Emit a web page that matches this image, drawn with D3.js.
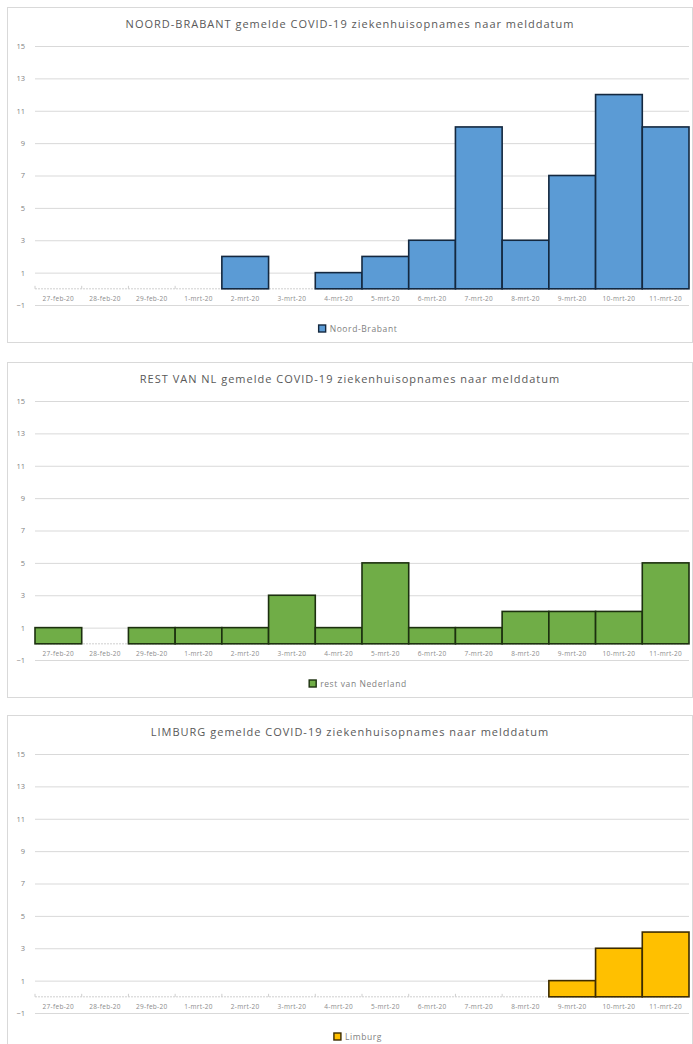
<!DOCTYPE html>
<html>
<head>
<meta charset="utf-8">
<script src="https://cdn.jsdelivr.net/npm/d3@7"></script>
<style>
  body { margin: 0; background: #fff; }
  text { font-family: "Open Sans", "Liberation Sans", sans-serif; }
</style>
</head>
<body>
<div id="charts"></div>
<script>
// chart data
var dates = ["27-feb-20", "28-feb-20", "29-feb-20", "1-mrt-20", "2-mrt-20", "3-mrt-20", "4-mrt-20",
             "5-mrt-20", "6-mrt-20", "7-mrt-20", "8-mrt-20", "9-mrt-20", "10-mrt-20", "11-mrt-20"];
var yTicks = [-1, 1, 3, 5, 7, 9, 11, 13, 15];
var brabantValues = [0, 0, 0, 0, 2, 0, 1, 2, 3, 10, 3, 7, 12, 10];
var restValues = [1, 0, 1, 1, 1, 3, 1, 5, 1, 1, 2, 2, 2, 5];
var limburgValues = [0, 0, 0, 0, 0, 0, 0, 0, 0, 0, 0, 1, 3, 4];
var titles = ["NOORD-BRABANT gemelde COVID-19 ziekenhuisopnames naar melddatum",
              "REST VAN NL gemelde COVID-19 ziekenhuisopnames naar melddatum",
              "LIMBURG gemelde COVID-19 ziekenhuisopnames naar melddatum"];
var legendNames = ["Noord-Brabant", "rest van Nederland", "Limburg"];

var width = 693,
    height = 1044,
    panelTops = [7, 362, 715],
    panelHeight = 335,
    plotLeft = 35,
    plotRight = 689;

var panels = [
  {title: titles[0], legend: legendNames[0], values: brabantValues, fill: "#5b9bd5", line: "#14283f"},
  {title: titles[1], legend: legendNames[1], values: restValues, fill: "#70ad47", line: "#1c300f"},
  {title: titles[2], legend: legendNames[2], values: limburgValues, fill: "#ffc000", line: "#3d2c00"}
];

var svg = d3.select("#charts")
            .append("svg")
            .attr("width", width)
            .attr("height", height)
            .style("display", "block");

// x scale shared by all panels, bars touch each other
var xScale = d3.scaleBand()
               .domain(dates)
               .range([plotLeft, plotRight])
               .padding(0);

panels.forEach(function(p, i) {
  var top = panelTops[i];
  var g = svg.append("g");

  // panel frame
  g.append("rect")
   .attr("x", 7.5)
   .attr("y", top + 0.5)
   .attr("width", 685)
   .attr("height", panelHeight)
   .style("fill", "#fff")
   .style("stroke", "#d9d9d9");

  // title
  g.append("text")
   .attr("x", 350)
   .attr("y", top + 21)
   .style("text-anchor", "middle")
   .style("font-size", "11px")
   .style("letter-spacing", "1px")
   .style("fill", "#595959")
   .text(p.title);

  var yScale = d3.scaleLinear()
                 .domain([-1, 15])
                 .range([top + 298, top + 39]);

  // gridlines with labels
  g.append("g")
   .attr("class", "y-axis")
   .attr("transform", "translate(" + plotLeft + ",0)")
   .call(d3.axisLeft(yScale)
           .tickValues(yTicks)
           .tickSize(-(plotRight - plotLeft))
           .tickPadding(10))
   .call(function(ax) {
     ax.select(".domain").remove();
     ax.selectAll("line").style("stroke", "#d9d9d9");
     ax.selectAll("text")
       .style("font-size", "7.5px")
       .style("fill", "#7f7f7f")
       .style("font-family", "\"Open Sans\", sans-serif");
   });

  // zero axis with category labels
  var zeroY = yScale(0);
  g.append("line")
   .attr("x1", plotLeft)
   .attr("x2", plotRight)
   .attr("y1", zeroY)
   .attr("y2", zeroY)
   .style("stroke", "#cfcfcf")
   .style("stroke-dasharray", "2,1");

  g.selectAll(".boundary")
   .data(dates)
   .enter()
   .append("line")
   .attr("class", "boundary")
   .attr("x1", function(d) { return xScale(d); })
   .attr("x2", function(d) { return xScale(d); })
   .attr("y1", zeroY)
   .attr("y2", zeroY - 3)
   .style("stroke", "#cfcfcf");

  g.selectAll(".cat")
   .data(dates)
   .enter()
   .append("text")
   .attr("class", "cat")
   .attr("x", function(d) { return xScale(d) + xScale.bandwidth() / 2; })
   .attr("y", zeroY + 12)
   .style("text-anchor", "middle")
   .style("font-size", "6.5px")
   .style("letter-spacing", "0.3px")
   .style("fill", "#8c8c8c")
   .text(function(d) { return d; });

  // bars
  var barData = dates.map(function(d, j) { return {date: d, value: p.values[j]}; })
                     .filter(function(d) { return d.value > 0; });

  g.selectAll(".bars")
   .data(barData)
   .enter()
   .append("rect")
   .attr("class", "bars")
   .attr("x", function(d) { return xScale(d.date); })
   .attr("width", xScale.bandwidth())
   .attr("y", function(d) { return yScale(d.value); })
   .attr("height", function(d) { return zeroY - yScale(d.value); })
   .style("fill", p.fill)
   .style("stroke", p.line)
   .style("stroke-width", 1.6);

  // legend
  var legend = g.append("g");
  var legendText = legend.append("text")
                         .attr("y", top + 325)
                         .style("font-size", "8.5px")
                         .style("letter-spacing", "0.6px")
                         .style("fill", "#7f7f7f")
                         .text(p.legend);
  var textW = legendText.node().getComputedTextLength();
  var legendX = 358 - (textW + 11) / 2;
  legendText.attr("x", legendX + 11);
  legend.append("rect")
        .attr("x", legendX)
        .attr("y", top + 318)
        .attr("width", 7)
        .attr("height", 7)
        .style("fill", p.fill)
        .style("stroke", p.line)
        .style("stroke-width", 1.4);
});
</script>
</body>
</html>
